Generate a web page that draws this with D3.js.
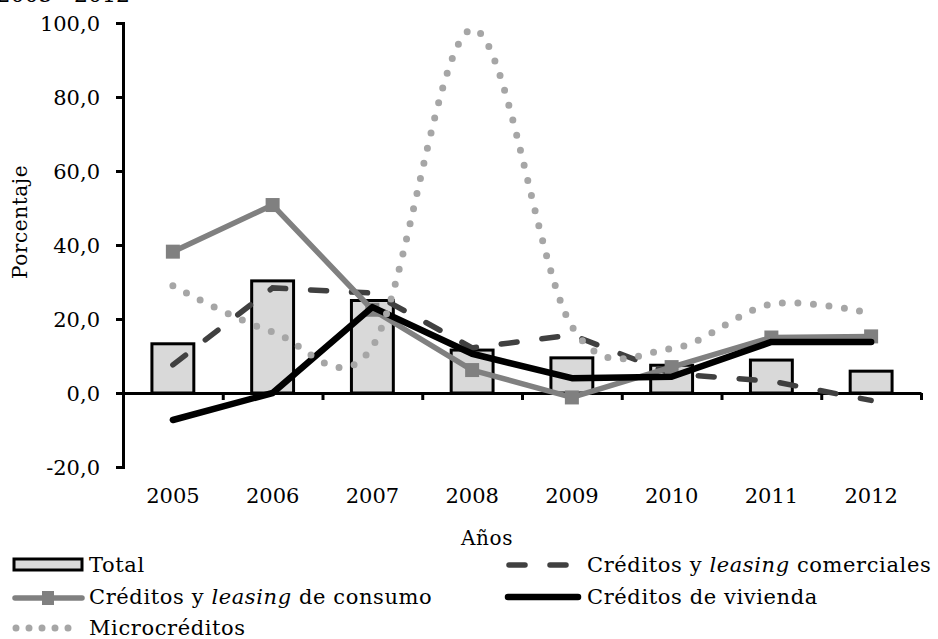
<!DOCTYPE html>
<html>
<head>
<meta charset="utf-8">
<title>Porcentaje por tipo de crédito 2005 - 2012</title>
<style>
  body { margin: 0; background: #fff; }
  svg { display: block; font-family: "DejaVu Serif", serif; }
  .axis path, .axis line { stroke: #000; stroke-width: 3; fill: none; }
  .axis text { font-size: 21px; fill: #000; font-family: "DejaVu Serif", serif; }
  .lbl { font-size: 21px; fill: #000; letter-spacing: 0.6px; }
</style>
</head>
<body>
<script src="https://cdn.jsdelivr.net/npm/d3@7/dist/d3.min.js"></script>
<script>
// data
var years = ["2005", "2006", "2007", "2008", "2009", "2010", "2011", "2012"];
var total = [13.3, 30.3, 25.0, 11.6, 9.5, 7.5, 8.9, 5.9];
var comerciales = [7.6, 28.4, 27.0, 12.2, 15.7, 5.2, 3.2, -2.0];
var consumo = [38.2, 50.8, 22.5, 6.2, -1.2, 7.0, 15.0, 15.3];
var vivienda = [-7.3, 0.0, 23.2, 10.6, 4.0, 4.4, 13.8, 13.8];
var micro = [29.0, 16.5, 12.5, 98.3, 18.0, 12.0, 24.0, 21.5];
var yTicks = [-20, 0, 20, 40, 60, 80, 100];

var W = 938, H = 639;
var plotL = 123, plotR = 921, plotT = 23, plotB = 467;

var svg = d3.select("body").append("svg").attr("width", W).attr("height", H);

var x = d3.scaleBand().domain(years).range([plotL, plotR]);
var xBar = d3.scaleBand().domain(years).range([plotL, plotR]).paddingInner(0.58).paddingOuter(0.29);
var xEdge = d3.scaleLinear().domain([0, years.length]).range([plotL, plotR]);
var y = d3.scaleLinear().domain([-20, 100]).range([plotB, plotT]);
var cx = function(i) { return x(years[i]) + x.bandwidth() / 2; };
var fmt = function(v) { return v.toFixed(1).replace(".", ","); };

// clipped title line above the chart
svg.append("text")
  .attr("x", 130).attr("y", 2)
  .attr("text-anchor", "end")
  .style("font-size", "22px")
  .text("2005 - 2012");

// bars
svg.selectAll(".bar")
  .data(total)
  .enter().append("rect")
  .attr("class", "bar")
  .attr("x", function(d, i) { return xBar(years[i]); })
  .attr("width", xBar.bandwidth())
  .attr("y", function(d) { return y(Math.max(0, d)); })
  .attr("height", function(d) { return Math.abs(y(d) - y(0)); })
  .attr("fill", "#d9d9d9")
  .attr("stroke", "#000")
  .attr("stroke-width", 3);

// y axis
svg.append("g")
  .attr("class", "axis")
  .attr("transform", "translate(" + plotL + ",0)")
  .call(d3.axisLeft(y).tickValues(yTicks).tickFormat(fmt).tickSize(7).tickSizeOuter(7).tickPadding(16))
  .selectAll("text").attr("dy", "0.35em");

// x axis line with boundary ticks at y = 0
svg.append("g")
  .attr("class", "axis")
  .attr("transform", "translate(0," + y(0) + ")")
  .call(d3.axisBottom(xEdge).tickValues(d3.range(years.length + 1)).tickFormat("").tickSize(7).tickSizeOuter(0));

// category labels below the plot
svg.append("g")
  .attr("class", "axis")
  .attr("transform", "translate(0," + plotB + ")")
  .call(d3.axisBottom(x).tickSize(0).tickPadding(21))
  .call(function(g) { g.select(".domain").remove(); });

// axis titles
svg.append("text")
  .attr("class", "lbl")
  .style("font-size", "20px")
  .attr("transform", "translate(27,222) rotate(-90)")
  .attr("text-anchor", "middle")
  .text("Porcentaje");

svg.append("text")
  .attr("class", "lbl")
  .style("font-size", "20px")
  .attr("x", 487).attr("y", 545)
  .attr("text-anchor", "middle")
  .text("Años");

var line = d3.line()
  .x(function(d, i) { return cx(i); })
  .y(function(d) { return y(d); });

// comerciales (dashed)
svg.append("path")
  .datum(comerciales)
  .attr("d", line)
  .attr("fill", "none")
  .attr("stroke", "#404040")
  .attr("stroke-width", 5.5)
  .attr("stroke-linecap", "round")
  .attr("stroke-dasharray", "16,25");

// consumo (gray with squares)
svg.append("path")
  .datum(consumo)
  .attr("d", line)
  .attr("fill", "none")
  .attr("stroke", "#808080")
  .attr("stroke-width", 5.5)
  .attr("stroke-linejoin", "round");

svg.selectAll(".sq")
  .data(consumo)
  .enter().append("rect")
  .attr("class", "sq")
  .attr("x", function(d, i) { return cx(i) - 7; })
  .attr("y", function(d) { return y(d) - 7; })
  .attr("width", 14).attr("height", 14)
  .attr("fill", "#808080");

// vivienda (black)
svg.append("path")
  .datum(vivienda)
  .attr("d", line)
  .attr("fill", "none")
  .attr("stroke", "#000")
  .attr("stroke-width", 6.5)
  .attr("stroke-linecap", "round")
  .attr("stroke-linejoin", "round");

// microcreditos (smoothed, dotted)
svg.append("path")
  .datum(micro)
  .attr("d", line.curve(d3.curveCardinal.tension(0)))
  .attr("fill", "none")
  .attr("stroke", "#a6a6a6")
  .attr("stroke-width", 7)
  .attr("stroke-linecap", "round")
  .attr("stroke-dasharray", "0,15.5");

// legend
var lg = svg.append("g");

lg.append("rect")
  .attr("x", 14).attr("y", 559).attr("width", 68).attr("height", 11)
  .attr("fill", "#d9d9d9").attr("stroke", "#000").attr("stroke-width", 3);
lg.append("text").attr("class", "lbl").attr("x", 89).attr("y", 572).text("Total");

lg.append("line")
  .attr("x1", 15).attr("x2", 82).attr("y1", 598).attr("y2", 598)
  .attr("stroke", "#808080").attr("stroke-width", 5.5).attr("stroke-linecap", "round");
lg.append("rect")
  .attr("x", 42).attr("y", 591).attr("width", 12).attr("height", 14)
  .attr("fill", "#808080");
var t2 = lg.append("text").attr("class", "lbl").attr("x", 89).attr("y", 604);
t2.append("tspan").text("Créditos y  ");
t2.append("tspan").style("font-style", "italic").text("leasing");
t2.append("tspan").text(" de consumo");

lg.append("line")
  .attr("x1", 16).attr("x2", 80).attr("y1", 628).attr("y2", 628)
  .attr("stroke", "#a6a6a6").attr("stroke-width", 7)
  .attr("stroke-linecap", "round").attr("stroke-dasharray", "0,13");
lg.append("text").attr("class", "lbl").attr("x", 89).attr("y", 635).text("Microcréditos");

lg.append("line")
  .attr("x1", 509).attr("x2", 572).attr("y1", 565).attr("y2", 565)
  .attr("stroke", "#404040").attr("stroke-width", 5.5)
  .attr("stroke-linecap", "round").attr("stroke-dasharray", "16,25");
var t3 = lg.append("text").attr("class", "lbl").attr("x", 587).attr("y", 572);
t3.append("tspan").text("Créditos y ");
t3.append("tspan").style("font-style", "italic").text("leasing");
t3.append("tspan").text(" comerciales");

lg.append("line")
  .attr("x1", 508).attr("x2", 578).attr("y1", 597).attr("y2", 597)
  .attr("stroke", "#000").attr("stroke-width", 6.5).attr("stroke-linecap", "round");
lg.append("text").attr("class", "lbl").attr("x", 587).attr("y", 604).text("Créditos de vivienda");
</script>
</body>
</html>
